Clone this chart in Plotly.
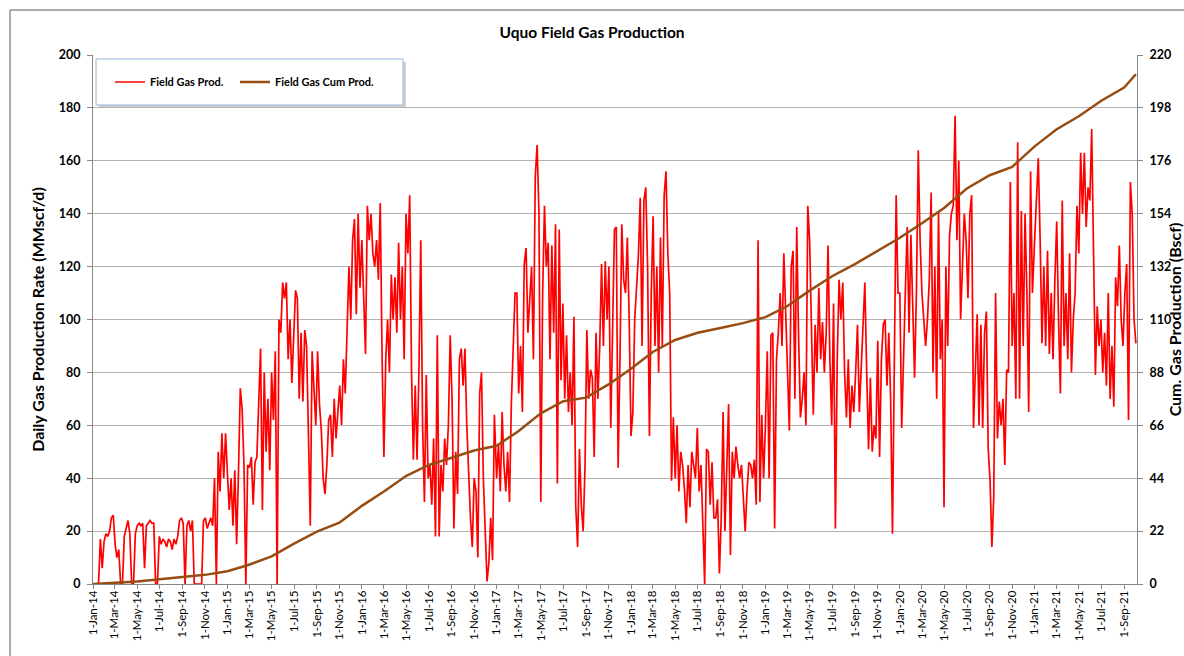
import pandas as pd
import plotly.graph_objects as go

# ---- Daily gas rate (MMscf/d), read every 5 days from 1 Jan of each year ----
rate_2014 = [0, 0, 0, 0, 17, 6,
             16, 19, 18, 20, 25, 26,
             15, 10, 13, 0, 0, 18,
             21, 24, 19, 0, 0, 19,
             22, 23, 22, 23, 6, 22,
             23, 24, 23, 23, 0, 0,
             18, 15, 17, 16, 14, 17,
             16, 13, 17, 15, 18, 24,
             25, 23, 0, 22, 24, 20,
             24, 0, 0, 0, 0, 0,
             24, 25, 21, 23, 25, 22,
             40, 0, 50, 35, 57, 40, 57]
rate_2015 = [42, 28, 40, 22, 43, 15,
             42, 74, 66, 45, 0, 45,
             44, 48, 30, 46, 48, 73,
             89, 28, 80, 50, 70, 43,
             80, 62, 88, 0, 100, 95,
             114, 108, 114, 85, 100, 76,
             95, 111, 108, 70, 95, 69,
             96, 90, 57, 22, 88, 75,
             60, 88, 68, 58, 40, 34,
             45, 62, 64, 48, 70, 55,
             65, 75, 60, 85, 72, 100,
             120, 100, 130, 138, 102, 140, 112]
rate_2016 = [130, 110, 87, 143, 130, 140,
             125, 120, 130, 115, 144, 86,
             48, 85, 100, 80, 117, 100,
             116, 95, 129, 100, 120, 85,
             140, 125, 147, 80, 47, 75,
             47, 80, 130, 60, 31, 79,
             40, 45, 30, 55, 18, 94,
             18, 45, 35, 55, 45, 60,
             94, 70, 21, 50, 34, 85,
             89, 75, 89, 60, 39, 25,
             14, 40, 35, 10, 72, 80,
             40, 20, 1, 8, 25, 9, 64]
rate_2017 = [40, 53, 35, 65, 45, 35,
             50, 31, 68, 92, 110, 110,
             72, 90, 65, 121, 127, 95,
             110, 120, 85, 154, 166, 140,
             31, 110, 143, 120, 129, 85,
             128, 95, 136, 38, 134, 77,
             106, 70, 94, 65, 80, 60,
             101, 29, 14, 51, 30, 20,
             44, 96, 70, 81, 78, 48,
             95, 70, 90, 121, 90, 122,
             100, 120, 59, 105, 134, 135,
             44, 85, 136, 115, 110, 131, 100]
rate_2018 = [56, 65, 100, 115, 124, 146,
             90, 145, 150, 120, 56, 110,
             139, 90, 120, 80, 131, 90,
             147, 156, 125, 110, 39, 63,
             40, 60, 35, 50, 45, 36,
             23, 45, 29, 50, 45, 40,
             59, 35, 45, 26, 0, 51,
             50, 30, 46, 25, 25, 32,
             4, 25, 65, 20, 40, 68,
             11, 50, 40, 52, 45, 40,
             45, 30, 20, 35, 46, 45,
             40, 47, 30, 130, 31, 64, 40]
rate_2019 = [60, 88, 40, 94, 95, 21,
             85, 95, 110, 90, 125, 100,
             80, 58, 120, 126, 70, 135,
             94, 63, 70, 80, 60, 143,
             130, 100, 64, 98, 80, 112,
             85, 99, 80, 95, 128, 85,
             60, 106, 21, 85, 115, 100,
             114, 80, 63, 85, 59, 75,
             65, 80, 98, 65, 80, 95,
             114, 80, 51, 78, 50, 60,
             55, 92, 48, 85, 98, 100,
             75, 95, 70, 19, 75, 147, 110]
rate_2020 = [110, 59, 90, 111, 135, 95,
             132, 100, 78, 110, 164, 130,
             110, 100, 90, 100, 115, 148,
             80, 120, 70, 141, 85, 100,
             29, 120, 90, 132, 140, 143,
             177, 130, 160, 100, 121, 140,
             130, 108, 140, 147, 59, 80,
             102, 60, 98, 59, 95, 103,
             51, 39, 14, 33, 110, 55,
             69, 60, 70, 45, 81, 80,
             152, 90, 110, 70, 167, 70,
             141, 90, 140, 110, 65, 156, 110]
rate_2021 = [130, 143, 161, 130, 91, 120,
             90, 126, 87, 110, 85, 115,
             137, 100, 72, 145, 90, 110,
             85, 125, 80, 100, 110, 143,
             125, 163, 140, 163, 135, 150,
             145, 172, 130, 79, 105, 90,
             100, 80, 95, 75, 110, 70,
             90, 67, 116, 105, 128, 100,
             90, 110, 121, 62, 152, 140, 100, 91]
rate_years = [2014, 2015, 2016, 2017, 2018, 2019, 2020, 2021]
rate_step_days = 5

# ---- Cumulative gas production (Bscf) ----
cum_dates = ["2014-01-01", "2014-03-01", "2014-05-01", "2014-07-01", "2014-09-01", "2014-11-01",
             "2015-01-01", "2015-03-01", "2015-05-01", "2015-07-01", "2015-09-01", "2015-11-01",
             "2016-01-01", "2016-03-01", "2016-05-01", "2016-07-01", "2016-09-01", "2016-11-01",
             "2017-01-01", "2017-03-01", "2017-05-01", "2017-07-01", "2017-09-01", "2017-11-01",
             "2018-01-01", "2018-03-01", "2018-05-01", "2018-07-01", "2018-09-01", "2018-11-01",
             "2019-01-01", "2019-03-01", "2019-05-01", "2019-07-01", "2019-09-01", "2019-11-01",
             "2020-01-01", "2020-03-01", "2020-05-01", "2020-07-01", "2020-09-01", "2020-11-01",
             "2021-01-01", "2021-03-01", "2021-05-01", "2021-07-01", "2021-09-01", "2021-10-03"]
cum_bscf = [0.0, 0.4, 1.0, 2.0, 3.0, 3.8,
            5.3, 8.0, 11.5, 16.8, 21.8, 25.5,
            32.5, 38.5, 45.0, 49.5, 52.5, 55.5,
            57.5, 63.5, 71.0, 76.0, 77.5, 83.0,
            89.5, 96.5, 101.5, 104.5, 106.5, 108.5,
            111.0, 115.5, 122.0, 128.0, 133.0, 138.5,
            144.0, 150.0, 156.5, 164.5, 170.0, 173.5,
            182.0, 189.0, 194.5, 201.0, 206.5, 212.0]

rate_by_year = [rate_2014, rate_2015, rate_2016, rate_2017,
                rate_2018, rate_2019, rate_2020, rate_2021]
rate_dates, rate_vals = [], []
for yr, arr in zip(rate_years, rate_by_year):
    start = pd.Timestamp(yr, 1, 1)
    for i, v in enumerate(arr):
        rate_dates.append(start + pd.Timedelta(days=rate_step_days * i))
        rate_vals.append(v)

FONT = "Lato, 'Open Sans', Arial, sans-serif"
L, R, T, B = 93, 47, 55, 72
W, H = 1184, 656
PW, PH = W - L - R, H - T - B


def px(xp):
    return (xp - L) / PW


def py(yp):
    return (H - B - yp) / PH


fig = go.Figure()
fig.add_trace(go.Scatter(x=rate_dates, y=rate_vals, mode="lines", name="Field Gas Prod.",
                         line=dict(color="#ff0000", width=1.7), yaxis="y", legend="legend"))
fig.add_trace(go.Scatter(x=pd.to_datetime(cum_dates), y=cum_bscf, mode="lines",
                         name="Field Gas Cum Prod.", line=dict(color="#974c12", width=2.5),
                         yaxis="y2", legend="legend2"))

shapes = [
    # outer chart border
    dict(type="line", xref="paper", yref="paper", x0=px(10), x1=px(1190), y0=py(10), y1=py(10),
         line=dict(color="#595959", width=1)),
    dict(type="line", xref="paper", yref="paper", x0=px(10), x1=px(10), y0=py(10), y1=py(660),
         line=dict(color="#595959", width=1)),
    # legend shadow and box
    dict(type="rect", xref="paper", yref="paper", x0=px(99), x1=px(406), y0=py(108), y1=py(62),
         fillcolor="#d0d0d0", line=dict(width=0), layer="between"),
    dict(type="rect", xref="paper", yref="paper", x0=px(96), x1=px(403), y0=py(105), y1=py(59),
         fillcolor="white", line=dict(color="#95b3d7", width=1), layer="between"),
]

leg_common = dict(orientation="h", xanchor="left", y=py(82), yanchor="middle",
                  bgcolor="rgba(0,0,0,0)", borderwidth=0,
                  font=dict(size=11, family=FONT, weight="bold"))

fig.update_layout(
    width=W, height=H,
    margin=dict(l=L, r=R, t=T, b=B, autoexpand=False),
    paper_bgcolor="white", plot_bgcolor="white",
    font=dict(family=FONT, color="#000000"),
    title=dict(text="<b>Uquo Field Gas Production</b>", x=0.5, xref="container", xanchor="center",
               y=1 - 33 / H, yanchor="middle", yref="container",
               font=dict(size=15.5, family=FONT, color="#000000")),
    showlegend=True,
    legend=dict(x=px(110), **leg_common),
    legend2=dict(x=px(235), **leg_common),
    shapes=shapes,
    xaxis=dict(type="date", range=["2014-01-01", "2021-10-06"], automargin=False,
               tick0="2014-01-01", dtick="M2", tickformat="%-d-%b-%y", tickangle=-90,
               tickfont=dict(size=11.5, family=FONT), ticks="outside", ticklen=4,
               ticklabelstandoff=-3,
               tickcolor="#868686", showgrid=False, showline=True, linecolor="#868686",
               linewidth=1, zeroline=False),
    yaxis=dict(range=[0, 200], dtick=20, showgrid=True, gridcolor="#b3b3b3", gridwidth=1,
               showline=True, linecolor="#868686", ticks="outside", ticklen=5, automargin=False,
               tickcolor="#868686", zeroline=False, ticklabelstandoff=4,
               tickfont=dict(size=12.5, family=FONT, weight="bold"),
               title=dict(text="<b>Daily Gas Production Rate (MMscf/d)</b>", standoff=10,
                          font=dict(size=16, family=FONT))),
    yaxis2=dict(range=[0, 220], dtick=22, overlaying="y", side="right", showgrid=False,
                showline=True, linecolor="#868686", ticks="outside", ticklen=5, automargin=False,
                tickcolor="#868686", zeroline=False, ticklabelstandoff=4,
                tickfont=dict(size=12.5, family=FONT, weight="bold"),
                title=dict(text="<b>Cum. Gas Production (Bscf)</b>", standoff=10,
                           font=dict(size=16, family=FONT))),
)

fig.write_html("out.html", config={"displayModeBar": False},
               post_script="document.body.style.margin='0';")
